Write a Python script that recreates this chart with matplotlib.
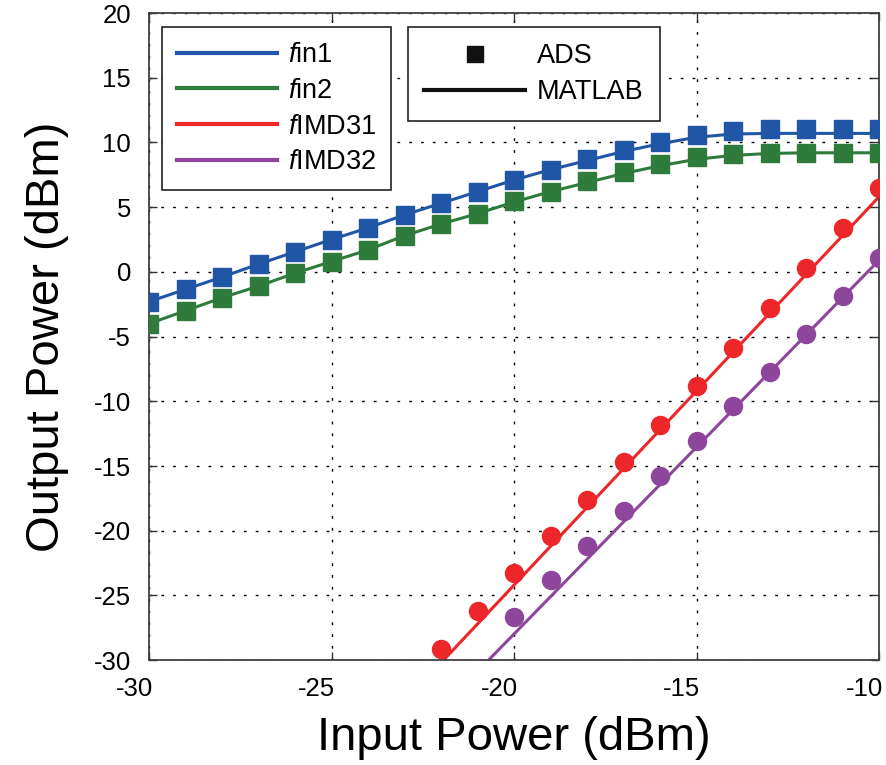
import matplotlib
matplotlib.use("Agg")
import matplotlib.pyplot as plt
import matplotlib.transforms as mtransforms
from matplotlib.lines import Line2D

BLUE, GREEN, RED, PURPLE = "#2155a5", "#2f7b3c", "#ec2629", "#8e469c"

# ADS simulation (markers)
pin = [-30, -29, -28, -27, -26, -25, -24, -23, -22, -21, -20,
       -19, -18, -17, -16, -15, -14, -13, -12, -11, -10]
ads_fin1 = [-2.3, -1.35, -0.4, 0.6, 1.55, 2.5, 3.4, 4.4, 5.3, 6.2, 7.1,
            7.9, 8.7, 9.4, 10.0, 10.6, 10.9, 11.0, 11.0, 11.0, 11.0]
ads_fin2 = [-4.0, -3.0, -2.0, -1.1, -0.1, 0.8, 1.7, 2.8, 3.7, 4.5, 5.5,
            6.2, 7.0, 7.7, 8.3, 8.9, 9.1, 9.2, 9.2, 9.2, 9.2]

pin_imd31 = [-22, -21, -20, -19, -18, -17, -16, -15, -14, -13, -12, -11, -10]
ads_imd31 = [-29.1, -26.2, -23.3, -20.4, -17.6, -14.7, -11.8, -8.8, -5.9,
             -2.8, 0.3, 3.4, 6.5]
pin_imd32 = [-20, -19, -18, -17, -16, -15, -14, -13, -12, -11, -10]
ads_imd32 = [-26.7, -23.8, -21.2, -18.5, -15.8, -13.1, -10.4, -7.7, -4.8,
             -1.9, 1.1]

# MATLAB model (lines)
mat_fin1 = [-2.3, -1.35, -0.4, 0.6, 1.55, 2.5, 3.4, 4.4, 5.3, 6.2, 7.1,
            7.9, 8.6, 9.3, 9.9, 10.4, 10.65, 10.7, 10.7, 10.7, 10.7]
mat_fin2 = [-4.0, -3.0, -2.0, -1.1, -0.1, 0.8, 1.7, 2.8, 3.7, 4.5, 5.4,
            6.2, 6.9, 7.6, 8.2, 8.7, 9.0, 9.15, 9.2, 9.2, 9.2]
mat_imd31_x = [-22.0, -10.0]
mat_imd31_y = [-30.2, 5.8]
mat_imd32_x = [-20.7, -10.0]
mat_imd32_y = [-30.0, 0.9]

xticks = [-30, -25, -20, -15, -10]
yticks = [-30, -25, -20, -15, -10, -5, 0, 5, 10, 15, 20]

plt.rcParams.update({
    "font.family": "Liberation Sans",
    "axes.unicode_minus": False,
    "mathtext.fontset": "custom",
    "mathtext.it": "Liberation Sans:italic",
    "mathtext.rm": "Liberation Sans",
})

fig = plt.figure(figsize=(8.87, 7.65), dpi=100)
ax = fig.add_axes([0.168, 0.137, 0.823, 0.846])

ax.plot(pin, mat_fin1, color=BLUE, lw=2.2, zorder=2)
ax.plot(pin, mat_fin2, color=GREEN, lw=2.2, zorder=2)
ax.plot(mat_imd31_x, mat_imd31_y, color=RED, lw=2.2, zorder=2)
ax.plot(mat_imd32_x, mat_imd32_y, color=PURPLE, lw=2.2, zorder=2)

ax.plot(pin, ads_fin1, "s", color=BLUE, ms=13, ls="none", zorder=3)
ax.plot(pin, ads_fin2, "s", color=GREEN, ms=13, ls="none", zorder=3)
ax.plot(pin_imd31, ads_imd31, "o", color=RED, ms=13, ls="none", zorder=3)
ax.plot(pin_imd32, ads_imd32, "o", color=PURPLE, ms=13, ls="none", zorder=3)

ax.set_xlim(-30, -10)
ax.set_ylim(-30, 20)
ax.set_xticks(xticks)
ax.set_yticks(yticks)
ax.tick_params(direction="in", length=6, width=1.0, top=True, right=True,
               labelsize=18.5, color="#333333")
ax.tick_params(axis="x", pad=12)
ax.tick_params(axis="y", pad=13)
# x tick labels sit a little left of their ticks in the original
shift = mtransforms.ScaledTranslation(-15 / 100, 0, fig.dpi_scale_trans)
for lab in ax.get_xticklabels():
    lab.set_transform(lab.get_transform() + shift)

ax.grid(True, color="black", linestyle=(0, (2, 6.5)), linewidth=1.0)
for s in ax.spines.values():
    s.set_color("#404040")
    s.set_linewidth(1.3)

ax.set_xlabel("Input Power (dBm)", fontsize=34, labelpad=11)
ax.set_ylabel("Output Power (dBm)", fontsize=34, labelpad=18)

h1 = [Line2D([], [], color=c, lw=3) for c in (BLUE, GREEN, RED, PURPLE)]
l1 = [r"$f$in1", r"$f$in2", r"$f$IMD31", r"$f$IMD32"]
leg1 = ax.legend(h1, l1, loc="upper left", bbox_to_anchor=(0.018, 0.978),
                 fontsize=19.5, handlelength=3.7, handletextpad=0.4,
                 labelspacing=0.36, borderpad=0.55, borderaxespad=0,
                 fancybox=False, framealpha=1, edgecolor="#222222")
leg1.get_frame().set_linewidth(1.2)
ax.add_artist(leg1)

h2 = [Line2D([], [], marker="s", color="#111111", ms=12, ls="none"),
      Line2D([], [], color="#111111", lw=3)]
leg2 = ax.legend(h2, ["ADS", "MATLAB"], loc="upper left",
                 bbox_to_anchor=(0.355, 0.978), fontsize=19.5, handlelength=3.7,
                 handletextpad=0.45, labelspacing=0.36, borderpad=0.6,
                 borderaxespad=0, fancybox=False, framealpha=1,
                 edgecolor="#222222")
leg2.get_frame().set_linewidth(1.2)

fig.savefig("out.png", dpi=100)
